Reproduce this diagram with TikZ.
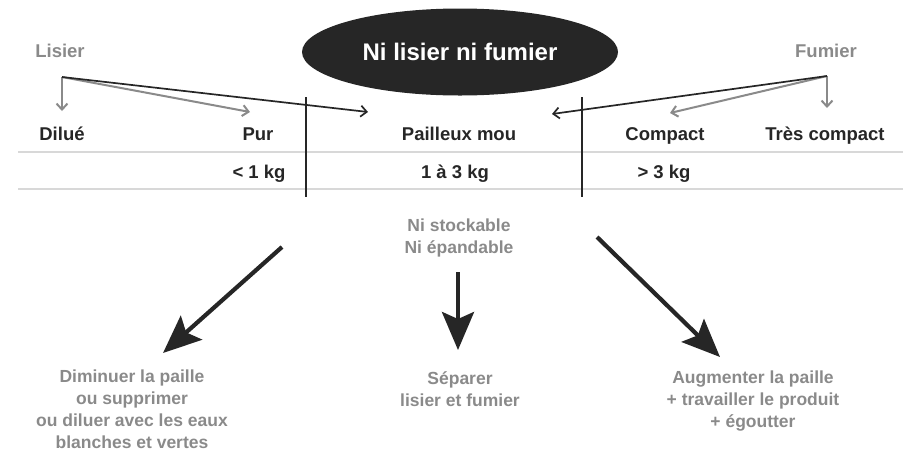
\documentclass[tikz,border=0pt]{standalone}
\usepackage{fontspec}
\setmainfont{Liberation Sans}
\usetikzlibrary{arrows.meta,shapes.geometric}
\definecolor{ink}{HTML}{262626}
\definecolor{txtgray}{HTML}{8A8A8A}
\definecolor{rulegray}{HTML}{D8D8D8}
\begin{document}
\begin{tikzpicture}[x=1pt,y=-1pt,
  lbl/.style={font=\fontsize{18.5}{22}\selectfont\bfseries, text=ink, inner sep=0pt, anchor=base},
  cat/.style={lbl, text=txtgray},
  note/.style={font=\fontsize{17.5}{21.7}\selectfont\bfseries, text=txtgray, inner sep=0pt, align=center, anchor=base},
  rulel/.style={draw=rulegray, line width=1.2pt},
  divider/.style={draw=ink, line width=1.8pt},
  blackarr/.style={draw=ink, line width=1.7pt, -{Straight Barb[length=6pt,width=11pt]}},
  grayarr/.style={draw=txtgray, line width=2pt, -{Straight Barb[length=6pt,width=11pt]}},
  bigarr/.style={draw=ink, line width=4.2pt, -{Stealth[length=38pt,width=32pt,inset=7pt]}}
]
\useasboundingbox (0,0) rectangle (910,451);

% table rules
\draw[rulel] (18,152) -- (903,152);
\draw[rulel] (18,189) -- (903,189);
\draw[divider] (306,97) -- (306,197);
\draw[divider] (582,97) -- (582,197);

% title
\node[ellipse, fill=ink, minimum width=316pt, minimum height=87pt, inner sep=0pt,
      text=white, font=\fontsize{24}{28}\selectfont\bfseries] (title) at (460,52) {Ni lisier ni fumier};

% categories
\node[cat] (lisier) at (60,57) {Lisier};
\node[cat] (fumier) at (826,57) {Fumier};

% row labels
\node[lbl] (dilue) at (62,140) {Dilué};
\node[lbl] (pur) at (258,140) {Pur};
\node[lbl] (pmou) at (459,140) {Pailleux mou};
\node[lbl] (compact) at (665,140) {Compact};
\node[lbl] (tcompact) at (825,140) {Très compact};
\node[lbl] (w1) at (259,178) {< 1 kg};
\node[lbl] (w2) at (455,178) {1 à 3 kg};
\node[lbl] (w3) at (664,178) {> 3 kg};

% notes (base anchor = baseline of last line)
\node[note] (ns) at (459,253) {Ni stockable\\Ni épandable};
\node[note] (left) at (132,448) {Diminuer la paille\\ou supprimer\\ou diluer avec les eaux\\blanches et vertes};
\node[note] (mid) at (460,406) {Séparer\\lisier et fumier};
\node[note] (right) at (753,427) {Augmenter la paille\\+ travailler le produit\\+ égoutter};

% connector coordinates
\coordinate (lisC) at (62,77);
\coordinate (fumC) at (827,76);
\coordinate (dilT) at (62,111);
\coordinate (purT) at (250,112);
\coordinate (pmL) at (368,112);
\coordinate (pmR) at (552,114);
\coordinate (cmpT) at (670,113);
\coordinate (tcT) at (827,108);

\draw[grayarr] (lisC) -- (dilT);
\draw[grayarr] (lisC) -- (purT);
\draw[blackarr] (lisC) -- (pmL);
\draw[grayarr] (fumC) -- (tcT);
\draw[grayarr] (fumC) -- (cmpT);
\draw[blackarr] (fumC) -- (pmR);

% big arrows
\coordinate (l1) at (282,247);
\coordinate (l2) at (163,353);
\coordinate (m1) at (458,272);
\coordinate (m2) at (458,350);
\coordinate (r1) at (597,237);
\coordinate (r2) at (720,357);
\draw[bigarr] (l1) -- (l2);
\draw[bigarr] (m1) -- (m2);
\draw[bigarr] (r1) -- (r2);
\end{tikzpicture}
\end{document}
